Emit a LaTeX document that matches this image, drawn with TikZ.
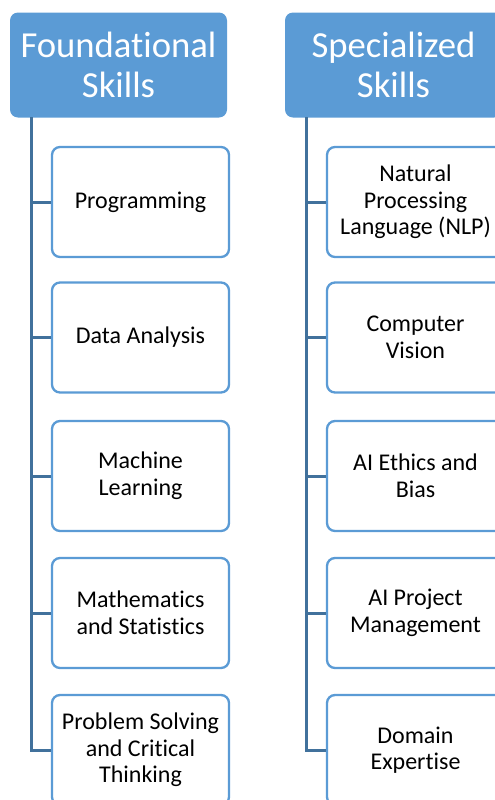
\documentclass[tikz,border=0pt]{standalone}
\usepackage{fontspec}
\setmainfont{Carlito}[Ligatures=NoCommon]

\tikzset{every picture/.style={line width=0.75pt}}

\begin{document}
\begin{tikzpicture}[x=0.75pt,y=0.75pt,yscale=-1,xscale=1,
	head/.style={draw opacity=0,fill={rgb, 255:red, 91; green, 155; blue, 213 },rounded corners=6pt,
		minimum width=162.75pt,minimum height=78.75pt,inner sep=0pt,align=center,text=white,
		font=\fontsize{27.5}{30}\selectfont},
	skill/.style={draw={rgb, 255:red, 91; green, 155; blue, 213 },line width=1.75pt,fill=white,rounded corners=6pt,
		minimum width=132.75pt,minimum height=82.5pt,inner sep=0pt,align=center,
		font=\fontsize{18}{20}\selectfont},
	trunk/.style={draw={rgb, 255:red, 65; green, 113; blue, 156 },line width=2.25pt}]
	\useasboundingbox (0,0) rectangle (495,800);
	\clip (0,0) rectangle (495,800);

	%Shape: Header boxes
	\node[head] (fh) at (118.5,65) {Foundational\\Skills};
	\node[head] (sh) at (393.5,65) {Specialized\\Skills};

	%Straight Lines: trunk start points
	\coordinate (ft) at (31,117);
	\coordinate (st) at (306,117);

	% Text Node: foundational skills
	\node[skill] (f1) at (140.5,202) {Programming};
	\node[skill] (f2) at (140.5,337.5) {Data Analysis};
	\node[skill] (f3) at (140.5,476) {Machine\\Learning};
	\node[skill] (f4) at (140.5,613) {Mathematics\\and Statistics};
	\node[skill] (f5) at (140.5,750) {Problem Solving\\and Critical\\Thinking};

	% Text Node: specialized skills
	\node[skill] (s1) at (415.5,202) {Natural\\Processing\\Language (NLP)};
	\node[skill] (s2) at (415.5,337.5) {Computer\\Vision};
	\node[skill] (s3) at (415.5,476) {AI Ethics and\\Bias};
	\node[skill] (s4) at (415.5,613) {AI Project\\Management};
	\node[skill] (s5) at (415.5,750) {Domain\\Expertise};

	%Straight Lines: connectors
	\draw[trunk] (ft) |- (f5.west);
	\draw[trunk] (st) |- (s5.west);
	\foreach \i in {1,...,4}{
		\draw[trunk] (f\i.west -| ft) -- (f\i.west);
		\draw[trunk] (s\i.west -| st) -- (s\i.west);
	}

\end{tikzpicture}
\end{document}
